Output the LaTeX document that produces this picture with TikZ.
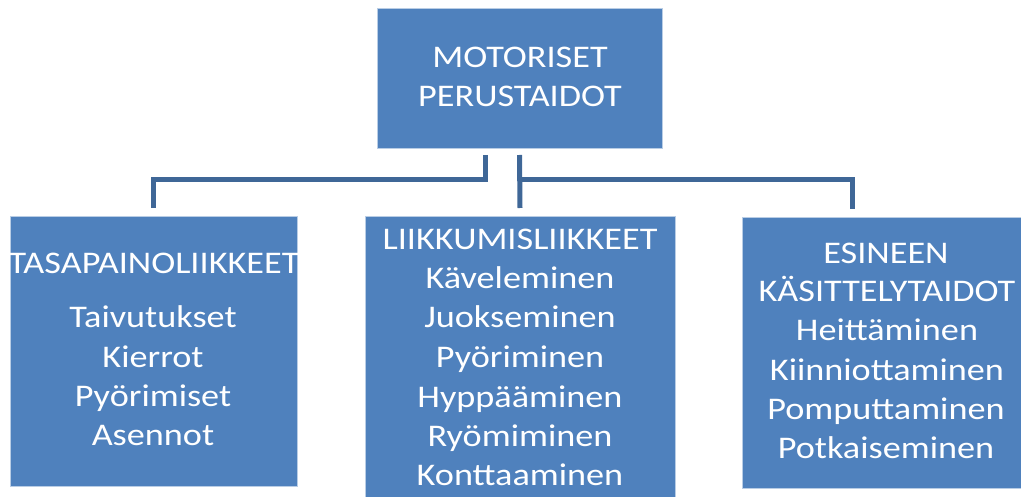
\documentclass[tikz,border=0pt]{standalone}
\usepackage{fontspec}
\setmainfont{Carlito}[FakeStretch=1.15]
\definecolor{boxblue}{HTML}{4F81BD}
\definecolor{boxedge}{HTML}{B9CDE5}
\definecolor{connblue}{HTML}{3F6797}
\begin{document}
\begin{tikzpicture}[x=1pt,y=-1pt,
  box/.style={rectangle,fill=boxblue,draw=boxedge,line width=0.8pt,inner sep=0pt,outer sep=0pt},
  lbl/.style={text=white,font=\fontsize{31.5}{39}\selectfont,anchor=base,inner sep=0pt},
  conn/.style={draw=connblue,line width=5pt,line join=miter}]
\useasboundingbox (0,0) rectangle (1021,497);
\clip (0,0) rectangle (1021,497);
% boxes
\node[box,minimum width=285pt,minimum height=140pt] (top) at (519.5,78) {};
\node[box,minimum width=287pt,minimum height=270pt] (left) at (153.5,351) {};
\node[box,minimum width=310pt,minimum height=300pt] (mid) at (520,366) {};
\node[box,minimum width=285pt,minimum height=271pt] (right) at (884.5,352.5) {};
% connectors
\draw[conn] ([xshift=-34pt,yshift=-7pt]top.south) |- ([yshift=36pt]left.north) -- ([yshift=8pt]left.north);
\draw[conn] ([yshift=-7pt]top.south) -- ([yshift=8pt]mid.north);
\draw[conn] ([yshift=36pt]mid.north) -| ([xshift=-32pt,yshift=8pt]right.north);
% top text
\node[lbl] (t1) at (520,68) {MOTORISET};
\node[lbl] (t2) at (520,107) {PERUSTAIDOT};
% left text
\node[lbl] (l0) at (154,274) {TASAPAINOLIIKKEET};
\node[lbl] (l1) at (153,328) {Taivutukset};
\node[lbl] (l2) at (153,367) {Kierrot};
\node[lbl] (l3) at (153,406) {Pyörimiset};
\node[lbl] (l4) at (153,445) {Asennot};
% middle text
\node[lbl] (m0) at (520,250) {LIIKKUMISLIIKKEET};
\node[lbl] (m1) at (520,289) {Käveleminen};
\node[lbl] (m2) at (520,328) {Juokseminen};
\node[lbl] (m3) at (520,367) {Pyöriminen};
\node[lbl] (m4) at (520,407) {Hyppääminen};
\node[lbl] (m5) at (520,446) {Ryömiminen};
\node[lbl] (m6) at (520,485) {Konttaaminen};
% right text
\node[lbl] (r0) at (886,264) {ESINEEN};
\node[lbl] (r1) at (887,302) {KÄSITTELYTAIDOT};
\node[lbl] (r2) at (887,341) {Heittäminen};
\node[lbl] (r3) at (887,380) {Kiinniottaminen};
\node[lbl] (r4) at (886,419) {Pomputtaminen};
\node[lbl] (r5) at (886,458) {Potkaiseminen};
\end{tikzpicture}
\end{document}
